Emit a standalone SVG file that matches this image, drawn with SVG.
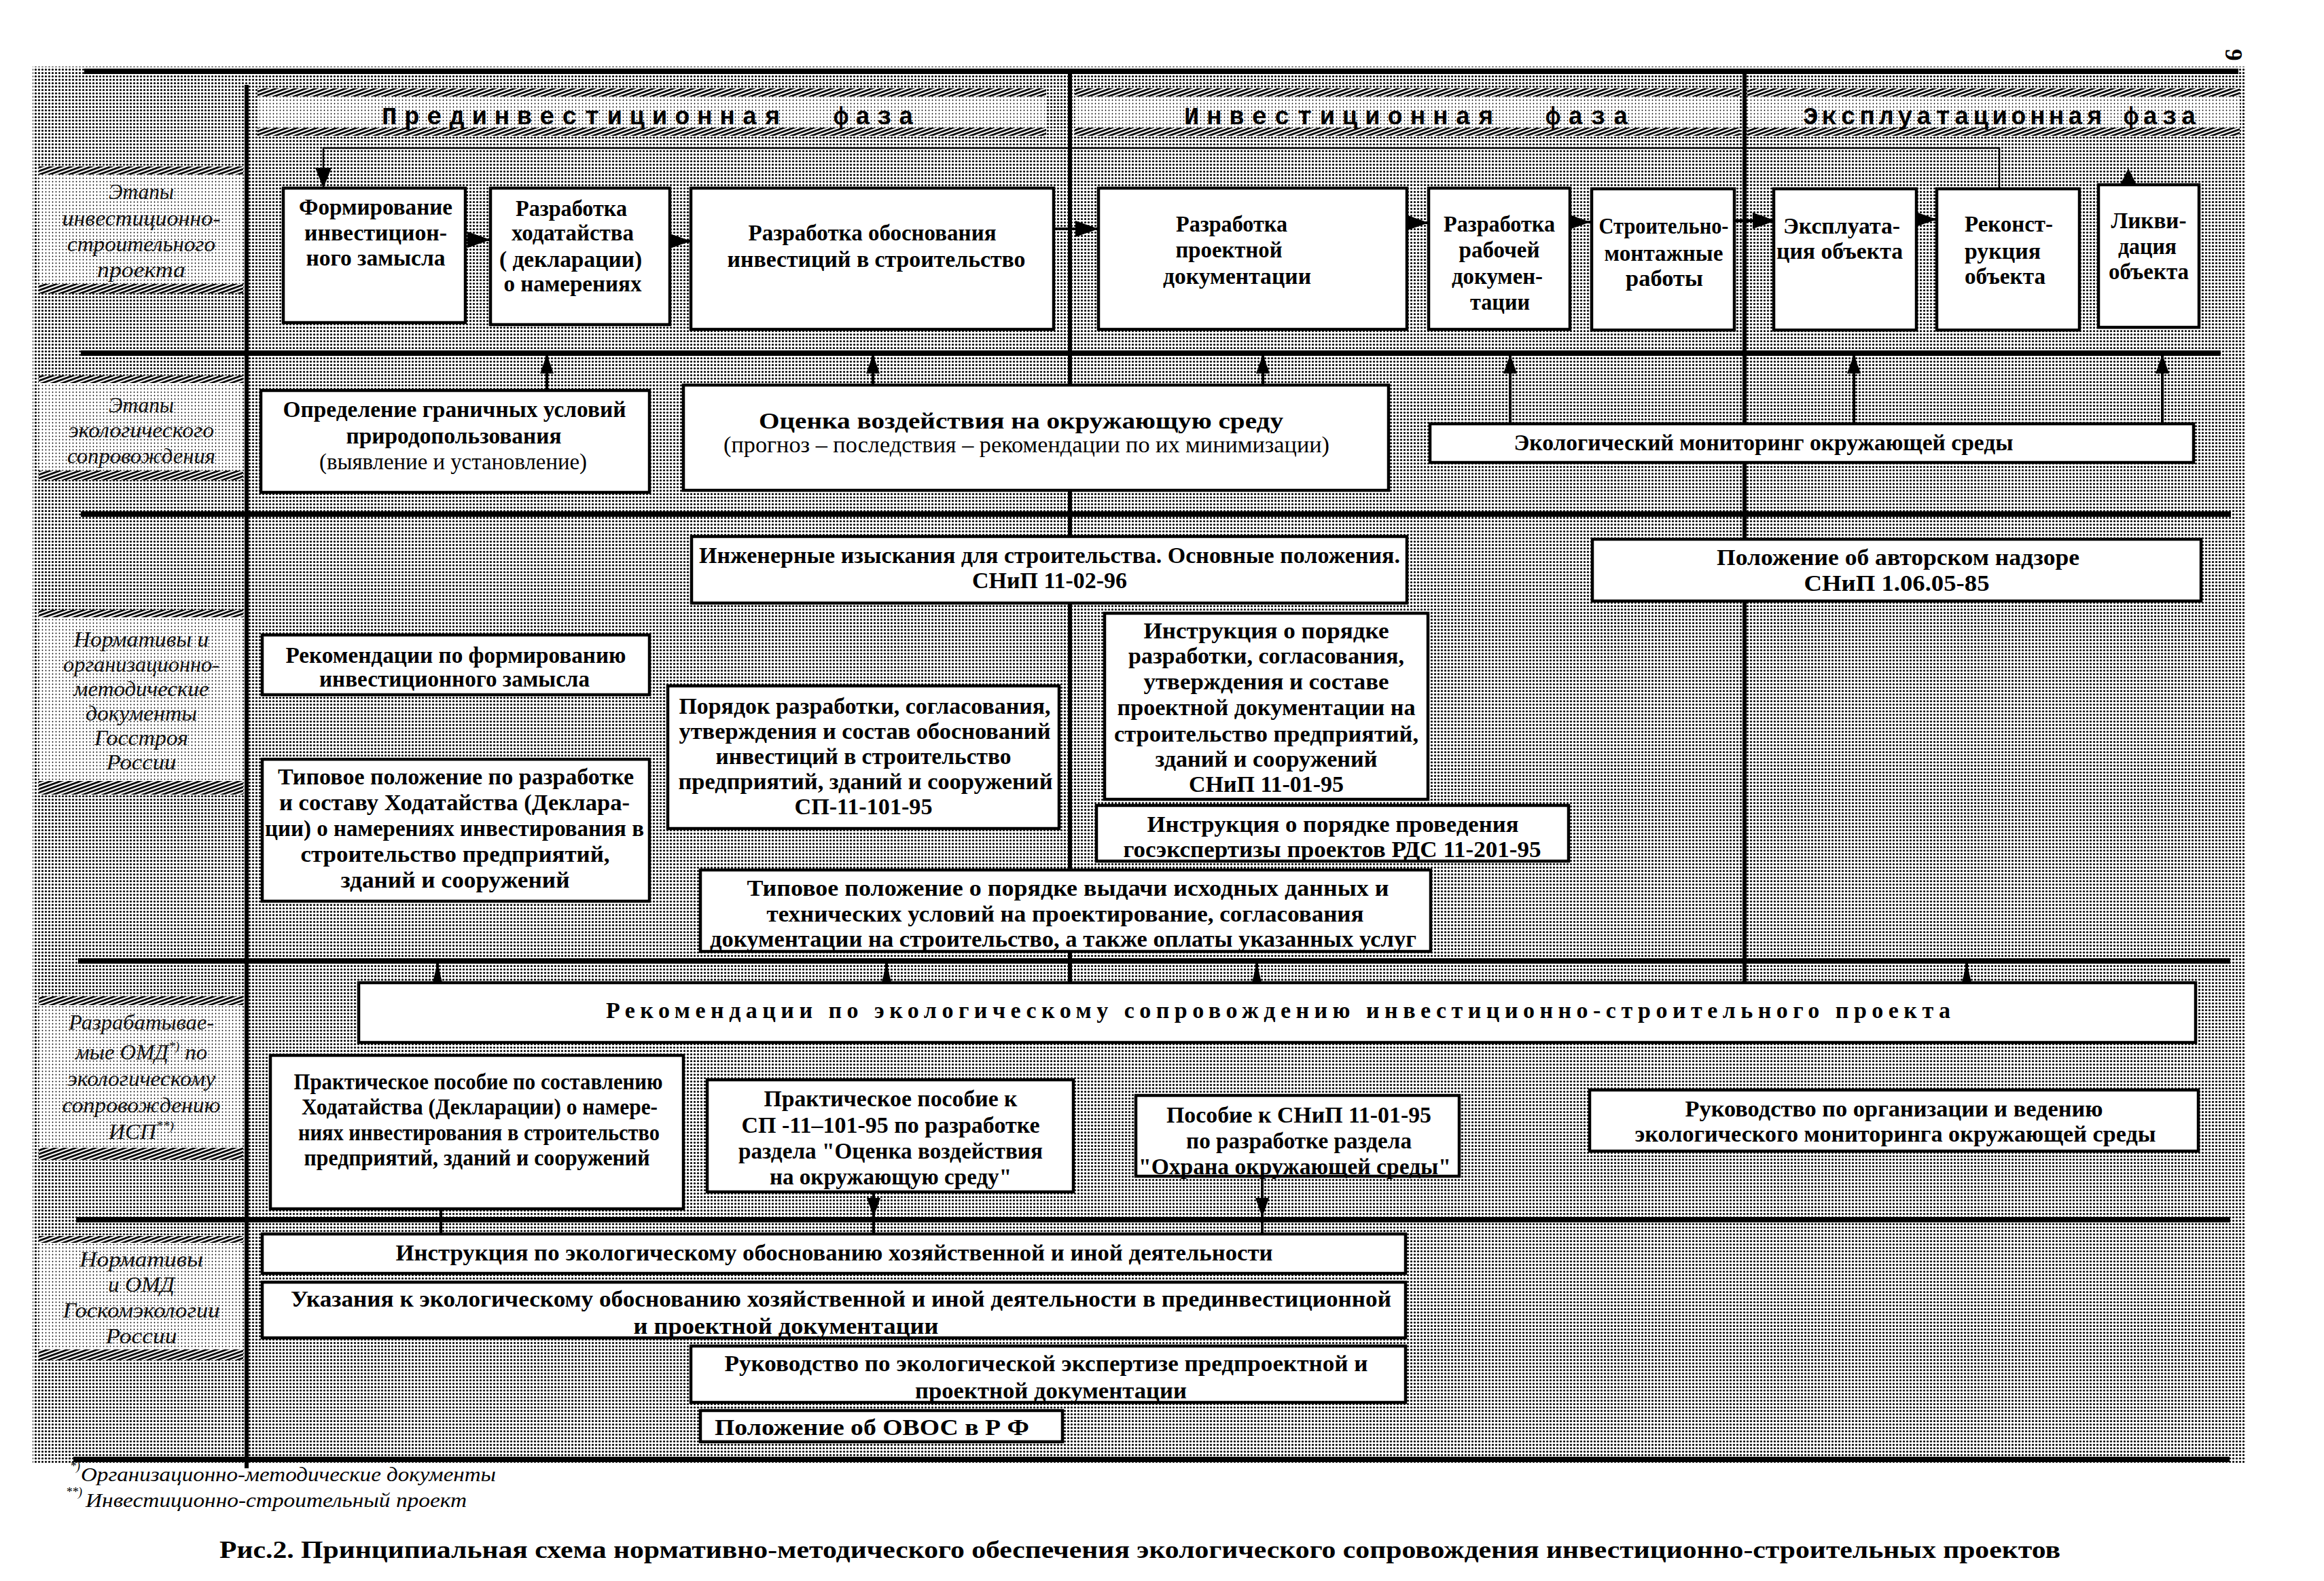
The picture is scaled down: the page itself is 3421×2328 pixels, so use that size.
<svg xmlns="http://www.w3.org/2000/svg" width="3421" height="2328" viewBox="0 0 3421 2328">
<defs>
<pattern id="dots" width="5" height="5" patternUnits="userSpaceOnUse"><rect width="5" height="5" fill="#fff"/><circle cx="2.5" cy="2.5" r="1.6" fill="#000"/></pattern>
<pattern id="light" width="5" height="5" patternUnits="userSpaceOnUse"><rect width="5" height="5" fill="#fff"/><circle cx="2.5" cy="2.5" r="0.9" fill="#000"/></pattern>
<pattern id="hatch" width="5" height="5" patternUnits="userSpaceOnUse" patternTransform="rotate(70)"><rect width="5" height="5" fill="#fff"/><rect width="2.8" height="5" fill="#000"/></pattern>
<marker id="ah" markerUnits="userSpaceOnUse" markerWidth="34" markerHeight="24" viewBox="0 0 34 24" refX="34" refY="12" orient="auto"><path d="M0,0 L34,12 L0,24 z" fill="#000"/></marker>
<marker id="ahs" markerUnits="userSpaceOnUse" markerWidth="30" markerHeight="24" viewBox="0 0 30 24" refX="30" refY="12" orient="auto"><path d="M0,0 L30,12 L0,24 z" fill="#000"/></marker>
<marker id="au" markerUnits="userSpaceOnUse" markerWidth="28" markerHeight="20" viewBox="0 0 28 20" refX="28" refY="10" orient="auto"><path d="M0,0 L28,10 L0,20 z" fill="#000"/></marker>
<marker id="aw" markerUnits="userSpaceOnUse" markerWidth="30" markerHeight="14" viewBox="0 0 30 14" refX="30" refY="7" orient="auto"><path d="M0,0 L30,7 L0,14 z" fill="#000"/></marker>
</defs>
<style>
.bx{fill:#fff;stroke:#000;stroke-width:4.5}
.t{font-family:"Liberation Serif","Times New Roman",serif;font-weight:bold;font-size:34px;text-anchor:middle;fill:#000}
.tn{font-weight:normal}
.st{text-anchor:start}
.lab{font-family:"Liberation Serif","Times New Roman",serif;font-style:italic;font-size:32px;text-anchor:middle;fill:#111}
.hd{font-family:"Liberation Mono","Courier New",monospace;font-weight:bold;font-size:37px;fill:#000}
.fn{font-family:"Liberation Serif","Times New Roman",serif;font-style:italic;font-size:29px;fill:#000}
.sup{font-family:"Liberation Serif","Times New Roman",serif;font-style:italic;font-size:18px;fill:#000}
.cap{font-family:"Liberation Serif","Times New Roman",serif;font-weight:bold;font-size:35px;fill:#000}
.rule{stroke:#000;stroke-width:8;fill:none}
.vl{stroke:#000;stroke-width:6;fill:none}
.cn{stroke:#000;stroke-width:4;fill:none}
.thin{stroke:#000;stroke-width:2.5;fill:none}
</style>

<g id="frame">
<rect x="48" y="98" width="3258" height="2058" fill="url(#dots)"/>
<!-- phase headers -->
<g id="phase-pre">
<rect x="379" y="130" width="1161" height="70" fill="url(#light)"/>
<rect x="379" y="130" width="1161" height="12" fill="url(#hatch)"/>
<rect x="379" y="188" width="1161" height="12" fill="url(#hatch)"/>
<text class="hd" x="562" y="183" textLength="586" lengthAdjust="spacing">Прединвестиционная</text>
<text class="hd" x="1227" y="183" textLength="118" lengthAdjust="spacing">фаза</text>
</g>
<g id="phase-inv">
<rect x="1582" y="130" width="979" height="70" fill="url(#light)"/>
<rect x="1582" y="130" width="979" height="12" fill="url(#hatch)"/>
<rect x="1582" y="188" width="979" height="12" fill="url(#hatch)"/>
<text class="hd" x="1743" y="183" textLength="455" lengthAdjust="spacing">Инвестиционная</text>
<text class="hd" x="2275" y="183" textLength="122" lengthAdjust="spacing">фаза</text>
</g>
<g id="phase-exp">
<rect x="2572" y="130" width="725" height="70" fill="url(#light)"/>
<rect x="2572" y="130" width="725" height="12" fill="url(#hatch)"/>
<rect x="2572" y="188" width="725" height="12" fill="url(#hatch)"/>
<text class="hd" x="2654" y="183" textLength="440" lengthAdjust="spacing">Эксплуатационная</text>
<text class="hd" x="3126" y="183" textLength="107" lengthAdjust="spacing">фаза</text>
</g>
<!-- row label areas -->
<g id="label-1">
<rect x="57" y="245" width="301" height="187" fill="url(#light)"/>
<rect x="57" y="245" width="301" height="12" fill="url(#hatch)"/>
<rect x="57" y="418" width="301" height="14" fill="url(#hatch)"/>
<text class="lab" x="208" y="293" textLength="96" lengthAdjust="spacingAndGlyphs">Этапы</text>
<text class="lab" x="208" y="332" textLength="233" lengthAdjust="spacingAndGlyphs">инвестиционно-</text>
<text class="lab" x="208" y="370" textLength="218" lengthAdjust="spacingAndGlyphs">строительного</text>
<text class="lab" x="208" y="408" textLength="130" lengthAdjust="spacingAndGlyphs">проекта</text>
</g>
<g id="label-2">
<rect x="57" y="553" width="301" height="154" fill="url(#light)"/>
<rect x="57" y="553" width="301" height="11" fill="url(#hatch)"/>
<rect x="57" y="693" width="301" height="14" fill="url(#hatch)"/>
<text class="lab" x="208" y="607" textLength="96" lengthAdjust="spacingAndGlyphs">Этапы</text>
<text class="lab" x="208" y="644" textLength="214" lengthAdjust="spacingAndGlyphs">экологического</text>
<text class="lab" x="208" y="682" textLength="218" lengthAdjust="spacingAndGlyphs">сопровождения</text>
</g>
<g id="label-3">
<rect x="57" y="898" width="301" height="272" fill="url(#light)"/>
<rect x="57" y="898" width="301" height="11" fill="url(#hatch)"/>
<rect x="57" y="1150" width="301" height="20" fill="url(#hatch)"/>
<text class="lab" x="208" y="952" textLength="199" lengthAdjust="spacingAndGlyphs">Нормативы и</text>
<text class="lab" x="208" y="989" textLength="230" lengthAdjust="spacingAndGlyphs">организационно-</text>
<text class="lab" x="208" y="1025" textLength="199" lengthAdjust="spacingAndGlyphs">методические</text>
<text class="lab" x="208" y="1061" textLength="164" lengthAdjust="spacingAndGlyphs">документы</text>
<text class="lab" x="208" y="1097" textLength="138" lengthAdjust="spacingAndGlyphs">Госстроя</text>
<text class="lab" x="208" y="1133" textLength="103" lengthAdjust="spacingAndGlyphs">России</text>
</g>
<g id="label-4">
<rect x="57" y="1467" width="301" height="241" fill="url(#light)"/>
<rect x="57" y="1467" width="301" height="13" fill="url(#hatch)"/>
<rect x="57" y="1690" width="301" height="18" fill="url(#hatch)"/>
<text class="lab" x="208" y="1516" textLength="214" lengthAdjust="spacingAndGlyphs">Разрабатывае-</text>
<text class="lab" x="208" y="1560" textLength="194" lengthAdjust="spacingAndGlyphs">мые ОМД<tspan dy="-13" font-size="19">*)</tspan><tspan dy="13"> по</tspan></text>
<text class="lab" x="208" y="1599" textLength="218" lengthAdjust="spacingAndGlyphs">экологическому</text>
<text class="lab" x="208" y="1638" textLength="233" lengthAdjust="spacingAndGlyphs">сопровождению</text>
<text class="lab" x="208" y="1677" textLength="96" lengthAdjust="spacingAndGlyphs">ИСП<tspan dy="-13" font-size="19">**)</tspan></text>
</g>
<g id="label-5">
<rect x="57" y="1820" width="301" height="183" fill="url(#light)"/>
<rect x="57" y="1820" width="301" height="10" fill="url(#hatch)"/>
<rect x="57" y="1987" width="301" height="16" fill="url(#hatch)"/>
<text class="lab" x="208" y="1865" textLength="182" lengthAdjust="spacingAndGlyphs">Нормативы</text>
<text class="lab" x="208" y="1902" textLength="98" lengthAdjust="spacingAndGlyphs">и ОМД</text>
<text class="lab" x="208" y="1940" textLength="231" lengthAdjust="spacingAndGlyphs">Госкомэкологии</text>
<text class="lab" x="208" y="1978" textLength="105" lengthAdjust="spacingAndGlyphs">России</text>
</g>
<!-- rules -->
<path class="rule" d="M124,105 H3295"/>
<path class="rule" d="M119,520 H3269"/>
<path class="rule" d="M119,757 H3284"/>
<path class="rule" d="M115,1415 H3283"/>
<path class="rule" d="M112,1796 H3283"/>
<path class="rule" d="M108,2149 H3282"/>
<path class="vl" d="M363,125 V2162"/>
<path class="vl" d="M1575,105 V1447"/>
<path class="vl" d="M2568,105 V1447"/>
</g>

<g id="connectors">
<path class="thin" d="M2943,277 V218 H476 V277" marker-end="url(#ahs)"/>
<path class="cn" d="M685,353 H722" marker-end="url(#ah)"/>
<path class="cn" d="M986,355 H1017" marker-end="url(#ah)"/>
<path class="cn" d="M1551,337 H1617" marker-end="url(#ah)"/>
<path class="cn" d="M2071,328 H2103" marker-end="url(#ah)"/>
<path class="cn" d="M2311,327 H2341" marker-end="url(#ah)"/>
<path class="cn" d="M2551,325 H2614" marker-end="url(#ah)"/>
<path class="cn" d="M2819,323 H2851" marker-end="url(#ah)"/>
<path d="M3133,248 L3145,272 L3121,272 z" fill="#000"/>
<path class="cn" d="M805,575 V522" marker-end="url(#au)"/>
<path class="cn" d="M1285,567 V522" marker-end="url(#au)"/>
<path class="cn" d="M1859,567 V522" marker-end="url(#au)"/>
<path class="cn" d="M2223,624 V522" marker-end="url(#au)"/>
<path class="cn" d="M2729,624 V522" marker-end="url(#au)"/>
<path class="cn" d="M3183,624 V522" marker-end="url(#au)"/>
<path class="cn" d="M644,1447 V1417" marker-end="url(#aw)"/>
<path class="cn" d="M1305,1447 V1417" marker-end="url(#aw)"/>
<path class="cn" d="M1850,1447 V1417" marker-end="url(#aw)"/>
<path class="cn" d="M2895,1447 V1417" marker-end="url(#aw)"/>
<path class="cn" d="M649,1780 V1817"/>
<path class="cn" d="M1286,1755 V1792" marker-end="url(#au)"/>
<path class="cn" d="M1286,1790 V1817"/>
<path class="cn" d="M1858,1732 V1792" marker-end="url(#au)"/>
<path class="cn" d="M1858,1790 V1817"/>
</g>

<!-- Row 1 -->
<g id="n-formirovanie"><rect class="bx" x="417" y="277" width="268" height="198"/>
<text class="t" x="553" y="316" textLength="226" lengthAdjust="spacingAndGlyphs">Формирование</text>
<text class="t" x="553" y="354" textLength="210" lengthAdjust="spacingAndGlyphs">инвестицион-</text>
<text class="t" x="553" y="391" textLength="205" lengthAdjust="spacingAndGlyphs">ного  замысла</text></g>
<g id="n-hodataystvo"><rect class="bx" x="722" y="277" width="264" height="201"/>
<text class="t" x="841" y="318" textLength="164" lengthAdjust="spacingAndGlyphs">Разработка</text>
<text class="t" x="843" y="354" textLength="180" lengthAdjust="spacingAndGlyphs">ходатайства</text>
<text class="t" x="840" y="393" textLength="210" lengthAdjust="spacingAndGlyphs">( декларации)</text>
<text class="t" x="843" y="429" textLength="203" lengthAdjust="spacingAndGlyphs">о намерениях</text></g>
<g id="n-obosnovanie"><rect class="bx" x="1017" y="277" width="534" height="208"/>
<text class="t" x="1284" y="354" textLength="365" lengthAdjust="spacingAndGlyphs">Разработка обоснования</text>
<text class="t" x="1290" y="393" textLength="439" lengthAdjust="spacingAndGlyphs">инвестиций  в строительство</text></g>
<g id="n-proektnaya"><rect class="bx" x="1617" y="277" width="454" height="208"/>
<text class="t" x="1813" y="341" textLength="164" lengthAdjust="spacingAndGlyphs">Разработка</text>
<text class="t" x="1809" y="379" textLength="157" lengthAdjust="spacingAndGlyphs">проектной</text>
<text class="t" x="1821" y="418" textLength="218" lengthAdjust="spacingAndGlyphs">документации</text></g>
<g id="n-rabochaya"><rect class="bx" x="2103" y="277" width="208" height="208"/>
<text class="t" x="2207" y="341" textLength="164" lengthAdjust="spacingAndGlyphs">Разработка</text>
<text class="t" x="2207" y="379" textLength="119" lengthAdjust="spacingAndGlyphs">рабочей</text>
<text class="t" x="2204" y="418" textLength="134" lengthAdjust="spacingAndGlyphs">докумен-</text>
<text class="t" x="2208" y="456" textLength="88" lengthAdjust="spacingAndGlyphs">тации</text></g>
<g id="n-smr"><rect class="bx" x="2343" y="278" width="210" height="208"/>
<text class="t" x="2449" y="344" textLength="191" lengthAdjust="spacingAndGlyphs">Строительно-</text>
<text class="t" x="2449" y="384" textLength="175" lengthAdjust="spacingAndGlyphs">монтажные</text>
<text class="t" x="2450" y="421" textLength="114" lengthAdjust="spacingAndGlyphs">работы</text></g>
<g id="n-ekspluataciya"><rect class="bx" x="2611" y="278" width="210" height="208"/>
<text class="t" x="2711" y="344" textLength="172" lengthAdjust="spacingAndGlyphs">Эксплуата-</text>
<text class="t" x="2708" y="381" textLength="186" lengthAdjust="spacingAndGlyphs">ция объекта</text></g>
<g id="n-rekonstrukciya"><rect class="bx" x="2851" y="278" width="210" height="208"/>
<text class="t st" x="2892" y="341" textLength="130" lengthAdjust="spacingAndGlyphs">Реконст-</text>
<text class="t st" x="2892" y="381" textLength="112" lengthAdjust="spacingAndGlyphs">рукция</text>
<text class="t st" x="2892" y="418" textLength="119" lengthAdjust="spacingAndGlyphs">объекта</text></g>
<g id="n-likvidaciya"><rect class="bx" x="3089" y="272" width="148" height="210"/>
<text class="t" x="3163" y="336" textLength="111" lengthAdjust="spacingAndGlyphs">Ликви-</text>
<text class="t" x="3161" y="374" textLength="86" lengthAdjust="spacingAndGlyphs">дация</text>
<text class="t" x="3163" y="411" textLength="118" lengthAdjust="spacingAndGlyphs">объекта</text></g>

<!-- Row 2 -->
<g id="n-granichnye"><rect class="bx" x="384" y="575" width="572" height="150"/>
<text class="t" x="669" y="614" textLength="505" lengthAdjust="spacingAndGlyphs">Определение граничных условий</text>
<text class="t" x="668" y="653" textLength="317" lengthAdjust="spacingAndGlyphs">природопользования</text>
<text class="t tn" x="667" y="691" textLength="394" lengthAdjust="spacingAndGlyphs">(выявление и установление)</text></g>
<g id="n-ocenka"><rect class="bx" x="1006" y="567" width="1038" height="155"/>
<text class="t" x="1503" y="631" textLength="772" lengthAdjust="spacingAndGlyphs">Оценка воздействия   на  окружающую  среду</text>
<text class="t tn" x="1511" y="666" textLength="892" lengthAdjust="spacingAndGlyphs">(прогноз – последствия – рекомендации по их минимизации)</text></g>
<g id="n-monitoring"><rect class="bx" x="2105" y="624" width="1124" height="57"/>
<text class="t" x="2596" y="663" textLength="735" lengthAdjust="spacingAndGlyphs">Экологический мониторинг окружающей  среды</text></g>

<!-- Row 3 -->
<g id="n-izyskaniya"><rect class="bx" x="1018" y="790" width="1053" height="98"/>
<text class="t" x="1545" y="829" textLength="1032" lengthAdjust="spacingAndGlyphs">Инженерные изыскания для строительства. Основные положения.</text>
<text class="t" x="1545" y="866" textLength="228" lengthAdjust="spacingAndGlyphs">СНиП 11-02-96</text></g>
<g id="n-avtorskiy"><rect class="bx" x="2344" y="794" width="896" height="91"/>
<text class="t" x="2794" y="832" textLength="534" lengthAdjust="spacingAndGlyphs">Положение об  авторском надзоре</text>
<text class="t" x="2792" y="870" textLength="273" lengthAdjust="spacingAndGlyphs">СНиП   1.06.05-85</text></g>
<g id="n-rek-zamysel"><rect class="bx" x="386" y="935" width="570" height="88"/>
<text class="t" x="671" y="976" textLength="501" lengthAdjust="spacingAndGlyphs">Рекомендации по формированию</text>
<text class="t" x="669" y="1011" textLength="398" lengthAdjust="spacingAndGlyphs">инвестиционного замысла</text></g>
<g id="n-instr-snip"><rect class="bx" x="1626" y="903" width="476" height="274"/>
<text class="t" x="1864" y="940" textLength="361" lengthAdjust="spacingAndGlyphs">Инструкция  о  порядке</text>
<text class="t" x="1864" y="977" textLength="406" lengthAdjust="spacingAndGlyphs">разработки,  согласования,</text>
<text class="t" x="1864" y="1015" textLength="361" lengthAdjust="spacingAndGlyphs">утверждения  и  составе</text>
<text class="t" x="1864" y="1053" textLength="439" lengthAdjust="spacingAndGlyphs">проектной документации  на</text>
<text class="t" x="1864" y="1092" textLength="448" lengthAdjust="spacingAndGlyphs">строительство  предприятий,</text>
<text class="t" x="1864" y="1129" textLength="327" lengthAdjust="spacingAndGlyphs">зданий и  сооружений</text>
<text class="t" x="1864" y="1166" textLength="228" lengthAdjust="spacingAndGlyphs">СНиП 11-01-95</text></g>
<g id="n-poryadok"><rect class="bx" x="983" y="1010" width="576" height="210"/>
<text class="t" x="1273" y="1051" textLength="547" lengthAdjust="spacingAndGlyphs">Порядок  разработки,  согласования,</text>
<text class="t" x="1273" y="1088" textLength="547" lengthAdjust="spacingAndGlyphs">утверждения и  состав  обоснований</text>
<text class="t" x="1271" y="1125" textLength="435" lengthAdjust="spacingAndGlyphs">инвестиций в строительство</text>
<text class="t" x="1274" y="1162" textLength="551" lengthAdjust="spacingAndGlyphs">предприятий, зданий  и  сооружений</text>
<text class="t" x="1271" y="1199" textLength="203" lengthAdjust="spacingAndGlyphs">СП-11-101-95</text></g>
<g id="n-tipovoe-hod"><rect class="bx" x="386" y="1118" width="570" height="209"/>
<text class="t" x="671" y="1155" textLength="524" lengthAdjust="spacingAndGlyphs">Типовое  положение по разработке</text>
<text class="t" x="669" y="1193" textLength="516" lengthAdjust="spacingAndGlyphs">и  составу  Ходатайства (Деклара-</text>
<text class="t" x="669" y="1231" textLength="558" lengthAdjust="spacingAndGlyphs">ции) о намерениях инвестирования в</text>
<text class="t" x="670" y="1269" textLength="455" lengthAdjust="spacingAndGlyphs">строительство   предприятий,</text>
<text class="t" x="670" y="1307" textLength="337" lengthAdjust="spacingAndGlyphs">зданий  и  сооружений</text></g>
<g id="n-gosekspertiza"><rect class="bx" x="1614" y="1186" width="695" height="82"/>
<text class="t" x="1962" y="1225" textLength="547" lengthAdjust="spacingAndGlyphs">Инструкция  о порядке  проведения</text>
<text class="t" x="1961" y="1262" textLength="615" lengthAdjust="spacingAndGlyphs">госэкспертизы  проектов РДС 11-201-95</text></g>
<g id="n-ishodnye"><rect class="bx" x="1031" y="1281" width="1075" height="120"/>
<text class="t" x="1572" y="1319" textLength="945" lengthAdjust="spacingAndGlyphs">Типовое  положение  о  порядке  выдачи  исходных  данных  и</text>
<text class="t" x="1568" y="1357" textLength="879" lengthAdjust="spacingAndGlyphs">технических  условий  на  проектирование,  согласования</text>
<text class="t" x="1565" y="1394" textLength="1040" lengthAdjust="spacingAndGlyphs">документации  на строительство, а  также  оплаты  указанных  услуг</text></g>

<!-- Row 4 -->
<g id="n-rek-soprovozhdenie"><rect class="bx" x="528" y="1447" width="2704" height="88"/>
<text class="t st" x="892" y="1499" textLength="1979" lengthAdjust="spacing">Рекомендации по экологическому сопровождению инвестиционно-строительного проекта</text></g>
<g id="n-posobie-hod"><rect class="bx" x="398" y="1554" width="608" height="226"/>
<text class="t" x="704" y="1604" textLength="543" lengthAdjust="spacingAndGlyphs">Практическое пособие по составлению</text>
<text class="t" x="706" y="1641" textLength="524" lengthAdjust="spacingAndGlyphs">Ходатайства (Декларации) о намере-</text>
<text class="t" x="705" y="1679" textLength="532" lengthAdjust="spacingAndGlyphs">ниях инвестирования в строительство</text>
<text class="t" x="702" y="1716" textLength="509" lengthAdjust="spacingAndGlyphs">предприятий, зданий и сооружений</text></g>
<g id="n-posobie-ovos"><rect class="bx" x="1041" y="1590" width="539" height="165"/>
<text class="t" x="1311" y="1629" textLength="373" lengthAdjust="spacingAndGlyphs">Практическое пособие к</text>
<text class="t" x="1311" y="1668" textLength="439" lengthAdjust="spacingAndGlyphs">СП -11–101-95 по разработке</text>
<text class="t" x="1311" y="1706" textLength="448" lengthAdjust="spacingAndGlyphs">раздела "Оценка воздействия</text>
<text class="t" x="1311" y="1744" textLength="356" lengthAdjust="spacingAndGlyphs">на окружающую среду"</text></g>
<g id="n-posobie-snip"><rect class="bx" x="1672" y="1613" width="476" height="119"/>
<text class="t" x="1912" y="1653" textLength="390" lengthAdjust="spacingAndGlyphs">Пособие к СНиП 11-01-95</text>
<text class="t" x="1912" y="1691" textLength="332" lengthAdjust="spacingAndGlyphs">по разработке раздела</text>
<text class="t" x="1906" y="1729" textLength="460" lengthAdjust="spacingAndGlyphs">"Охрана окружающей среды"</text></g>
<g id="n-ruk-monitoring"><rect class="bx" x="2340" y="1605" width="896" height="90"/>
<text class="t" x="2788" y="1644" textLength="615" lengthAdjust="spacingAndGlyphs">Руководство по  организации  и  ведению</text>
<text class="t" x="2790" y="1681" textLength="767" lengthAdjust="spacingAndGlyphs">экологического    мониторинга окружающей среды</text></g>

<!-- Row 5 -->
<g id="n-instr-eco"><rect class="bx" x="386" y="1817" width="1683" height="58"/>
<text class="t" x="1228" y="1856" textLength="1291" lengthAdjust="spacingAndGlyphs">Инструкция  по экологическому  обоснованию хозяйственной  и иной  деятельности</text></g>
<g id="n-ukazaniya"><rect class="bx" x="386" y="1888" width="1683" height="82"/>
<text class="t" x="1238" y="1924" textLength="1620" lengthAdjust="spacingAndGlyphs">Указания  к  экологическому  обоснованию  хозяйственной  и иной деятельности в прединвестиционной</text>
<text class="t" x="1157" y="1964" textLength="449" lengthAdjust="spacingAndGlyphs">и проектной   документации</text></g>
<g id="n-ruk-ekspertiza"><rect class="bx" x="1017" y="1982" width="1052" height="83"/>
<text class="t" x="1540" y="2019" textLength="947" lengthAdjust="spacingAndGlyphs">Руководство по экологической экспертизе предпроектной и</text>
<text class="t" x="1547" y="2059" textLength="400" lengthAdjust="spacingAndGlyphs">проектной документации</text></g>
<g id="n-ovos"><rect class="bx" x="1031" y="2077" width="533" height="46"/>
<text class="t st" x="1052" y="2113" textLength="463" lengthAdjust="spacingAndGlyphs">Положение об ОВОС  в  Р Ф</text></g>

<!-- footnotes and caption -->
<g id="notes">
<text class="sup" x="103" y="2165">*)</text>
<text class="fn" x="119" y="2181" textLength="611" lengthAdjust="spacingAndGlyphs">Организационно-методические документы</text>
<text class="sup" x="97" y="2203">**)</text>
<text class="fn" x="126" y="2219" textLength="561" lengthAdjust="spacingAndGlyphs">Инвестиционно-строительный проект</text>
<text class="cap" x="323" y="2294" textLength="2710" lengthAdjust="spacingAndGlyphs">Рис.2. Принципиальная схема нормативно-методического обеспечения экологического сопровождения инвестиционно-строительных проектов</text>
<text class="cap" x="0" y="0" transform="translate(3276,72) rotate(90)">9</text>
</g>
</svg>
